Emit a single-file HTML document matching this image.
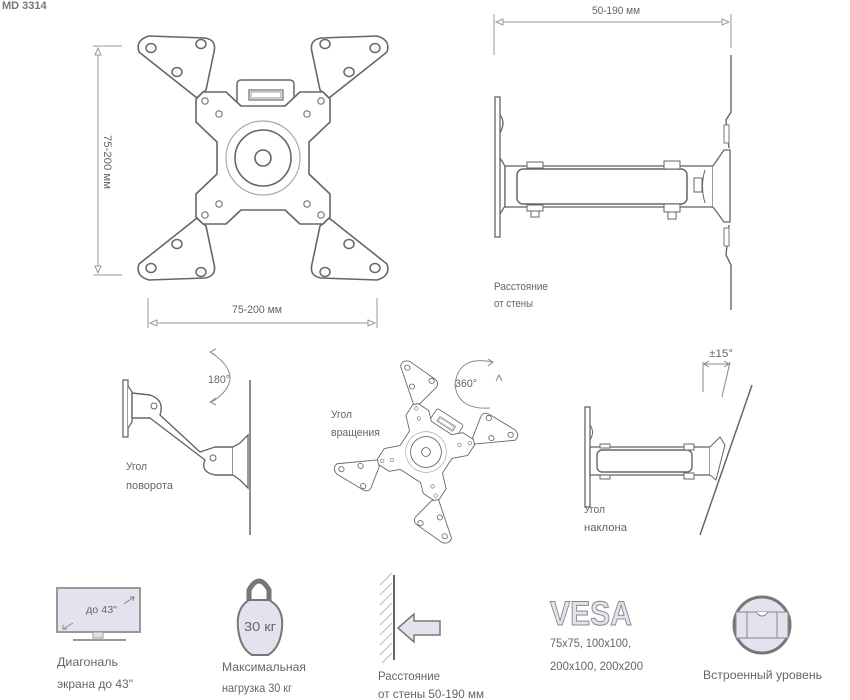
<!DOCTYPE html>
<html><head><meta charset="utf-8"><style>
html,body{margin:0;padding:0;background:#fff;}
svg{display:block;}
text{font-family:"Liberation Sans",sans-serif;fill:#666;}
</style></head><body>
<svg width="850" height="700" viewBox="0 0 850 700" xmlns="http://www.w3.org/2000/svg">
<defs>
<g id="arm">
<path d="M-66,-60 L-124,-106 Q-128,-118 -114,-122 L-58,-120 Q-46,-118 -49,-106 L-57,-68 Z" fill="#fff" stroke="#666" stroke-width="1.6" stroke-linejoin="round"/>
<ellipse cx="-112" cy="-110" rx="5" ry="4.5" fill="none" stroke="#666" stroke-width="1.5"/>
<ellipse cx="-62" cy="-114" rx="5" ry="4.5" fill="none" stroke="#666" stroke-width="1.5"/>
<ellipse cx="-86" cy="-86" rx="5" ry="4.5" fill="none" stroke="#666" stroke-width="1.5"/>
</g>
<g id="plate">
<use href="#arm"/>
<use href="#arm" transform="scale(-1,1)"/>
<use href="#arm" transform="scale(1,-1)"/>
<use href="#arm" transform="scale(-1,-1)"/>
<rect x="-26" y="-78" width="57" height="32" rx="4" fill="#fff" stroke="#666" stroke-width="1.5"/>
<rect x="-14" y="-68" width="34" height="10" fill="none" stroke="#777" stroke-width="1.3"/>
<rect x="-12" y="-66" width="30" height="6" fill="none" stroke="#999" stroke-width="1"/>
<path d="M-60,-66 L-37,-66 L-22,-52 L22,-52 L37,-66 L60,-66 L67,-59 L67,-36 L46,-16 L46,16 L67,36 L67,59 L60,66 L37,66 L22,52 L-22,52 L-37,66 L-60,66 L-67,59 L-67,36 L-46,16 L-46,-16 L-67,-36 L-67,-59 Z" fill="#fff" stroke="#666" stroke-width="1.6" stroke-linejoin="round"/>
<circle cx="0" cy="0" r="37" fill="none" stroke="#aaa" stroke-width="1.2"/>
<circle cx="0" cy="0" r="28" fill="none" stroke="#666" stroke-width="1.6"/>
<circle cx="0" cy="0" r="8" fill="none" stroke="#666" stroke-width="1.6"/>
<circle cx="-58" cy="-57" r="3.2" fill="none" stroke="#777" stroke-width="1.2"/>
<circle cx="58" cy="-57" r="3.2" fill="none" stroke="#777" stroke-width="1.2"/>
<circle cx="-58" cy="57" r="3.2" fill="none" stroke="#777" stroke-width="1.2"/>
<circle cx="58" cy="57" r="3.2" fill="none" stroke="#777" stroke-width="1.2"/>
<circle cx="-44" cy="-44" r="3.2" fill="none" stroke="#777" stroke-width="1.2"/>
<circle cx="44" cy="-44" r="3.2" fill="none" stroke="#777" stroke-width="1.2"/>
<circle cx="-44" cy="46" r="3.2" fill="none" stroke="#777" stroke-width="1.2"/>
<circle cx="44" cy="46" r="3.2" fill="none" stroke="#777" stroke-width="1.2"/>
</g>
</defs>

<text x="2" y="9" font-size="11" font-weight="bold" style="fill:#777">MD 3314</text>

<!-- top-left plate -->
<use href="#plate" transform="translate(263,158)"/>
<line x1="93" y1="46" x2="122" y2="46" stroke="#999"/>
<line x1="93" y1="275" x2="122" y2="275" stroke="#999"/>
<line x1="98" y1="48" x2="98" y2="273" stroke="#999"/>
<path d="M95,55 L98,48 L101,55 Z M95,266 L98,273 L101,266 Z" fill="#fff" stroke="#999"/>
<text transform="translate(104,135) rotate(90)" font-size="11" textLength="54" lengthAdjust="spacingAndGlyphs">75-200 мм</text>
<line x1="148" y1="298" x2="148" y2="328" stroke="#999"/>
<line x1="377" y1="298" x2="377" y2="328" stroke="#999"/>
<line x1="150" y1="323" x2="375" y2="323" stroke="#999"/>
<path d="M157,320 L150,323 L157,326 Z M368,320 L375,323 L368,326 Z" fill="#fff" stroke="#999"/>
<text x="232" y="313" font-size="11" textLength="50" lengthAdjust="spacingAndGlyphs">75-200 мм</text>

<!-- top-right side view -->
<line x1="494" y1="14" x2="494" y2="55" stroke="#999"/>
<line x1="731" y1="14" x2="731" y2="48" stroke="#999"/>
<line x1="496" y1="22" x2="729" y2="22" stroke="#999"/>
<path d="M503,19 L496,22 L503,25 Z M722,19 L729,22 L722,25 Z" fill="#fff" stroke="#999"/>
<text x="592" y="14" font-size="11" textLength="48" lengthAdjust="spacingAndGlyphs">50-190 мм</text>
<rect x="495" y="97" width="5" height="140" fill="#fff" stroke="#666" stroke-width="1.3"/>
<path d="M500,115 Q506,122 500,133" fill="none" stroke="#666" stroke-width="1.3"/>
<path d="M500,158 L505,166 L505,206 L500,214" fill="none" stroke="#666" stroke-width="1.3"/>
<rect x="505" y="166" width="208" height="41" fill="#fff" stroke="#666" stroke-width="1.3"/>
<rect x="517" y="169" width="170" height="35" rx="6" fill="#fff" stroke="#666" stroke-width="1.5"/>
<rect x="527" y="162" width="16" height="6" fill="#fff" stroke="#666"/>
<rect x="527" y="205" width="16" height="6" fill="#fff" stroke="#666"/>
<rect x="531" y="211" width="8" height="6" fill="#fff" stroke="#666"/>
<rect x="664" y="161" width="16" height="8" fill="#fff" stroke="#666"/>
<rect x="664" y="204" width="16" height="8" fill="#fff" stroke="#666"/>
<rect x="668" y="212" width="8" height="7" fill="#fff" stroke="#666"/>
<path d="M713,166 L724,150 L730,150 L730,222 L724,222 L713,207" fill="#fff" stroke="#666" stroke-width="1.3"/>
<path d="M705,170 Q700,186 705,203" fill="none" stroke="#666"/>
<rect x="694" y="178" width="8" height="14" fill="#fff" stroke="#666"/>
<path d="M731,55 L731,112 L726,120 L729,148 M729,225 L726,255 L731,265 L731,310" fill="none" stroke="#666" stroke-width="1.4"/>
<path d="M724,125 h5 v18 h-5 Z M724,228 h5 v18 h-5 Z" fill="#fff" stroke="#777"/>
<text x="494" y="290" font-size="11" textLength="54" lengthAdjust="spacingAndGlyphs">Расстояние</text>
<text x="494" y="307" font-size="11" textLength="39" lengthAdjust="spacingAndGlyphs">от стены</text>

<!-- middle-left swivel -->
<rect x="123" y="380" width="5" height="57" fill="#fff" stroke="#666" stroke-width="1.3"/>
<path d="M128,386 L132,392 L132,422 L128,428" fill="#fff" stroke="#666" stroke-width="1.3"/>
<path d="M132,393 L150,395 Q165,400 160,415 L200,452 L215,447 L233,447 L233,475 L215,475 Q200,472 205,460 L150,418 L132,418 Z" fill="#fff" stroke="#666" stroke-width="1.4" stroke-linejoin="round"/>
<circle cx="154" cy="406" r="3" fill="none" stroke="#666"/>
<circle cx="213" cy="458" r="3" fill="none" stroke="#666"/>
<path d="M233,447 L240,443 L248,435 L248,488 L240,480 L233,475" fill="#fff" stroke="#666" stroke-width="1.3"/>
<line x1="250" y1="380" x2="250" y2="535" stroke="#666" stroke-width="1.5"/>
<path d="M212,353 Q248,378 212,402" fill="none" stroke="#888"/>
<path d="M216,349 L210,352 L216,356 M216,398 L210,402 L216,405" fill="none" stroke="#888"/>
<text x="208" y="383" font-size="11" textLength="22" lengthAdjust="spacingAndGlyphs">180°</text>
<text x="126" y="470" font-size="11" textLength="21" lengthAdjust="spacingAndGlyphs">Угол</text>
<text x="126" y="489" font-size="11" textLength="47" lengthAdjust="spacingAndGlyphs">поворота</text>

<!-- middle rotated plate -->
<use href="#plate" transform="translate(426,452) rotate(33) scale(0.55)"/>
<path d="M492,362 Q458,355 455,385 Q458,410 490,408" fill="none" stroke="#888"/>
<path d="M488,359 L493,362 L488,366 M496,381 L499,375 L502,381" fill="none" stroke="#888"/>
<text x="455" y="387" font-size="11" textLength="22" lengthAdjust="spacingAndGlyphs">360°</text>
<text x="331" y="418" font-size="11" textLength="21" lengthAdjust="spacingAndGlyphs">Угол</text>
<text x="331" y="436" font-size="11" textLength="49" lengthAdjust="spacingAndGlyphs">вращения</text>

<!-- right tilt -->
<rect x="585" y="407" width="5" height="100" fill="#fff" stroke="#666" stroke-width="1.3"/>
<path d="M590,425 Q595,432 590,440" fill="none" stroke="#666"/>
<rect x="590" y="447" width="120" height="28" fill="#fff" stroke="#666" stroke-width="1.3"/>
<rect x="597" y="450" width="95" height="22" rx="5" fill="#fff" stroke="#666" stroke-width="1.4"/>
<rect x="600" y="444" width="10" height="4" fill="#fff" stroke="#666"/>
<rect x="600" y="475" width="10" height="4" fill="#fff" stroke="#666"/>
<rect x="684" y="444" width="10" height="6" fill="#fff" stroke="#666"/>
<rect x="684" y="473" width="10" height="6" fill="#fff" stroke="#666"/>
<path d="M710,447 L720,437 L725,445 L716,480 L710,475" fill="#fff" stroke="#666"/>
<line x1="752" y1="385" x2="700" y2="535" stroke="#666" stroke-width="1.5"/>
<line x1="703" y1="362" x2="703" y2="392" stroke="#888"/>
<line x1="730" y1="362" x2="722" y2="397" stroke="#888"/>
<line x1="705" y1="364" x2="728" y2="364" stroke="#888"/>
<path d="M709,361 L704,364 L709,367 M724,361 L729,364 L724,367" fill="none" stroke="#888"/>
<text x="709" y="357" font-size="11" textLength="24" lengthAdjust="spacingAndGlyphs">±15°</text>
<text x="584" y="513" font-size="11" textLength="21" lengthAdjust="spacingAndGlyphs">Угол</text>
<text x="584" y="531" font-size="11" textLength="43" lengthAdjust="spacingAndGlyphs">наклона</text>

<!-- bottom icons -->
<rect x="57" y="588" width="83" height="44" fill="#e4e2ef" stroke="#999" stroke-width="2"/>
<rect x="93" y="632" width="10" height="6" fill="#e4e2ef" stroke="#999"/>
<line x1="73" y1="640" x2="126" y2="640" stroke="#999" stroke-width="2"/>
<text x="86" y="613" font-size="10" textLength="31" lengthAdjust="spacingAndGlyphs">до 43"</text>
<path d="M124,604 L134,597 M130,597 L134,597 L133,601 M73,623 L63,629 M63,625 L63,629 L67,629" fill="none" stroke="#888"/>
<text x="57" y="666" font-size="12" textLength="61" lengthAdjust="spacingAndGlyphs">Диагональ</text>
<text x="57" y="688" font-size="12" textLength="76" lengthAdjust="spacingAndGlyphs">экрана до 43"</text>

<path d="M249,602 L249,590 Q259,572 269,590 L269,602" fill="none" stroke="#777" stroke-width="5"/>
<path d="M249,600 Q236,608 238,628 Q240,648 252,655 L268,655 Q280,648 282,628 Q284,608 269,600 Z" fill="#e4e2ef" stroke="#777" stroke-width="2"/>
<text x="244" y="631" font-size="13" textLength="32" lengthAdjust="spacingAndGlyphs">30 кг</text>
<text x="222" y="671" font-size="12" textLength="84" lengthAdjust="spacingAndGlyphs">Максимальная</text>
<text x="222" y="692" font-size="12" textLength="70" lengthAdjust="spacingAndGlyphs">нагрузка 30 кг</text>

<line x1="394" y1="575" x2="394" y2="660" stroke="#666" stroke-width="2"/>
<path d="M380,585 L392,573 M380,595 L392,583 M380,605 L392,593 M380,615 L392,603 M380,625 L392,613 M380,635 L392,623 M380,645 L392,633 M380,655 L392,643 M382,663 L392,653" stroke="#bbb"/>
<path d="M398,628 L414,614 L414,621 L440,621 L440,635 L414,635 L414,642 Z" fill="#e4e2ef" stroke="#777" stroke-width="1.5"/>
<text x="378" y="680" font-size="12" textLength="62" lengthAdjust="spacingAndGlyphs">Расстояние</text>
<text x="378" y="698" font-size="12" textLength="106" lengthAdjust="spacingAndGlyphs">от стены 50-190 мм</text>

<text x="550" y="625" font-size="34" font-weight="bold" textLength="82" lengthAdjust="spacingAndGlyphs" style="fill:#e4e2ef;stroke:#888;stroke-width:1">VESA</text>
<text x="550" y="647" font-size="12" textLength="81" lengthAdjust="spacingAndGlyphs">75x75, 100x100,</text>
<text x="550" y="670" font-size="12" textLength="93" lengthAdjust="spacingAndGlyphs">200x100, 200x200</text>

<circle cx="762" cy="625" r="28" fill="#e4e2ef" stroke="#777" stroke-width="3"/>
<rect x="736" y="612" width="52" height="26" fill="#e4e2ef" stroke="#888"/>
<line x1="747" y1="612" x2="747" y2="638" stroke="#888"/>
<line x1="777" y1="612" x2="777" y2="638" stroke="#888"/>
<path d="M756,612 Q762,620 768,612" fill="#fff" stroke="#777"/>
<text x="703" y="679" font-size="12" textLength="119" lengthAdjust="spacingAndGlyphs">Встроенный уровень</text>
</svg>
</body></html>
